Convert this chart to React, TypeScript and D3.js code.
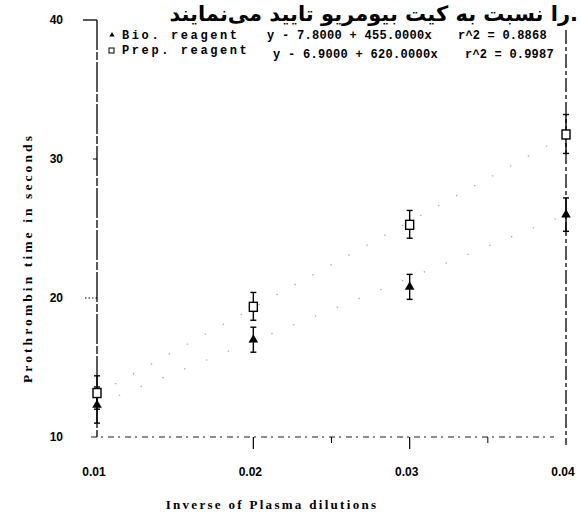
import React from 'react';
import * as d3 from 'd3';

// values
const dilutions = [0.01, 0.02, 0.03, 0.04];
const bioValues = [12.3, 17.0, 20.8, 26.0];
const bioErrors = [1.3, 0.9, 0.9, 1.2];
const prepValues = [13.2, 19.4, 25.3, 31.8];
const prepErrors = [1.2, 1.0, 1.0, 1.4];
const bioFit = [7.8, 455];
const prepFit = [6.9, 620];
const yTicks = [10, 20, 30, 40];
const xTicks = [0.01, 0.02, 0.03, 0.04];
const minorTicks = [0.025, 0.035];

const W = 580;
const H = 517;

const App: React.FC = () => {
  const x = d3.scaleLinear().domain([0.01, 0.04]).range([97, 566]);
  const y = d3.scaleLinear().domain([10, 40]).range([437, 20]);

  const fitLine = (fit: number[]) =>
    d3.line<number>()
      .x(d => x(d))
      .y(d => y(fit[0] + fit[1] * d))([0.01, 0.04]) || '';

  const tri = d3.symbol().type(d3.symbolTriangle).size(40)() || '';

  const errBar = (xv: number, v: number, e: number, key: string) => (
    <g key={key} stroke="#000" strokeWidth={1.4}>
      <line x1={x(xv)} x2={x(xv)} y1={y(v - e)} y2={y(v + e)} />
      <line x1={x(xv) - 3} x2={x(xv) + 3} y1={y(v - e)} y2={y(v - e)} />
      <line x1={x(xv) - 3} x2={x(xv) + 3} y1={y(v + e)} y2={y(v + e)} />
    </g>
  );

  const mono = '"Liberation Mono", "DejaVu Sans Mono", monospace';
  const serif = '"Liberation Serif", "DejaVu Serif", serif';
  const sans = '"Liberation Sans", Arial, sans-serif';

  return (
    <svg width={W} height={H} style={{ position: 'absolute', left: 0, top: 0, background: '#fff' }}>
      <rect width={W} height={H} fill="#fff" />

      {/* persian caption at the top of the scan */}
      <text x={578} y={21} textAnchor="end" fontFamily='"DejaVu Sans", sans-serif'
        fontWeight="bold" fontSize={21} fill="#000">
        را نسبت به کیت بیومریو تایید می‌نمایند.
      </text>

      {/* fitted regression lines, faint dotted */}
      <path d={fitLine(bioFit)} stroke="#aaa" strokeWidth={1.2} strokeDasharray="1.5,22" fill="none" />
      <path d={fitLine(prepFit)} stroke="#aaa" strokeWidth={1.2} strokeDasharray="1.5,19" fill="none" />

      {/* left axis */}
      <line x1={x(0.01)} x2={x(0.01)} y1={y(40)} y2={y(10)} stroke="#000" strokeWidth={1.3} strokeDasharray="30,2,8,2" />
      <line x1={x(0.01) - 14} x2={x(0.01)} y1={y(40)} y2={y(40)} stroke="#000" strokeWidth={1.3} />
      <line x1={x(0.01) - 12} x2={x(0.01)} y1={y(20)} y2={y(20)} stroke="#000" strokeWidth={1} strokeDasharray="1.5,2" />
      <line x1={x(0.01) - 4} x2={x(0.01)} y1={y(30)} y2={y(30)} stroke="#000" strokeWidth={1} />
      {yTicks.map(t => (
        <text key={t} x={63} y={y(t)} dy="0.35em" textAnchor="end" fontFamily={sans}
          fontWeight="bold" fontSize={12} fill="#000">{t}</text>
      ))}

      {/* right axis */}
      <line x1={x(0.04)} x2={x(0.04)} y1={y(40) + 10} y2={y(10) + 8} stroke="#000" strokeWidth={1.3} strokeDasharray="14,3,4,3" />

      {/* bottom axis */}
      <line x1={x(0.01) - 6} x2={x(0.04) - 12} y1={y(10)} y2={y(10)} stroke="#000" strokeWidth={0.9} strokeDasharray="6,4,2,5" />
      {xTicks.slice(1, 3).map(t => (
        <line key={t} x1={x(t)} x2={x(t)} y1={y(10)} y2={y(10) + 12} stroke="#000" strokeWidth={1.2} />
      ))}
      {minorTicks.map(t => (
        <line key={t} x1={x(t)} x2={x(t)} y1={y(10)} y2={y(10) + 6} stroke="#000" strokeWidth={1} />
      ))}
      {xTicks.map(t => (
        <text key={t} x={x(t) - 3} y={476} textAnchor="middle" fontFamily={sans}
          fontWeight="bold" fontSize={12} fill="#000">{t.toFixed(2)}</text>
      ))}

      {/* axis titles */}
      <text x={272} y={509} textAnchor="middle" fontFamily={serif} fontWeight="bold"
        fontSize={13} letterSpacing={2.3} fill="#000">Inverse of Plasma dilutions</text>
      <text transform="translate(32,258) rotate(-90)" textAnchor="middle" fontFamily={serif}
        fontWeight="bold" fontSize={13.5} letterSpacing={3.1} fill="#000">Prothrombin time in seconds</text>

      {/* error bars */}
      {dilutions.map((d, i) => errBar(d, prepValues[i], prepErrors[i], 'pe' + i))}
      {dilutions.map((d, i) => errBar(d, bioValues[i], bioErrors[i], 'be' + i))}

      {/* bio reagent: filled triangles */}
      {dilutions.map((d, i) => (
        <path key={'b' + i} d={tri} transform={`translate(${x(d)},${y(bioValues[i])})`} fill="#000" />
      ))}
      {/* prep reagent: open squares */}
      {dilutions.map((d, i) => (
        <rect key={'p' + i} x={x(d) - 4} y={y(prepValues[i]) - 4} width={8} height={9}
          fill="#fff" stroke="#000" strokeWidth={1.4} />
      ))}

      {/* legend */}
      <g fontFamily={mono} fontWeight="bold" fontSize={12} fill="#000">
        <path d={d3.symbol().type(d3.symbolTriangle).size(12)() || ''} transform="translate(112,35)" fill="#000" />
        <text x={122} y={39} letterSpacing={2.6}>Bio. reagent</text>
        <text x={267} y={39} letterSpacing={0.3}>y - 7.8000 + 455.0000x</text>
        <text x={458} y={39} letterSpacing={0.2}>r^2 = 0.8868</text>
        <rect x={109} y={48} width={5} height={5} fill="none" stroke="#000" strokeWidth={1} />
        <text x={122} y={54} letterSpacing={2.6}>Prep. reagent</text>
        <text x={273} y={58} letterSpacing={0.3}>y - 6.9000 + 620.0000x</text>
        <text x={465} y={58} letterSpacing={0.2}>r^2 = 0.9987</text>
      </g>
    </svg>
  );
};

export default App;
